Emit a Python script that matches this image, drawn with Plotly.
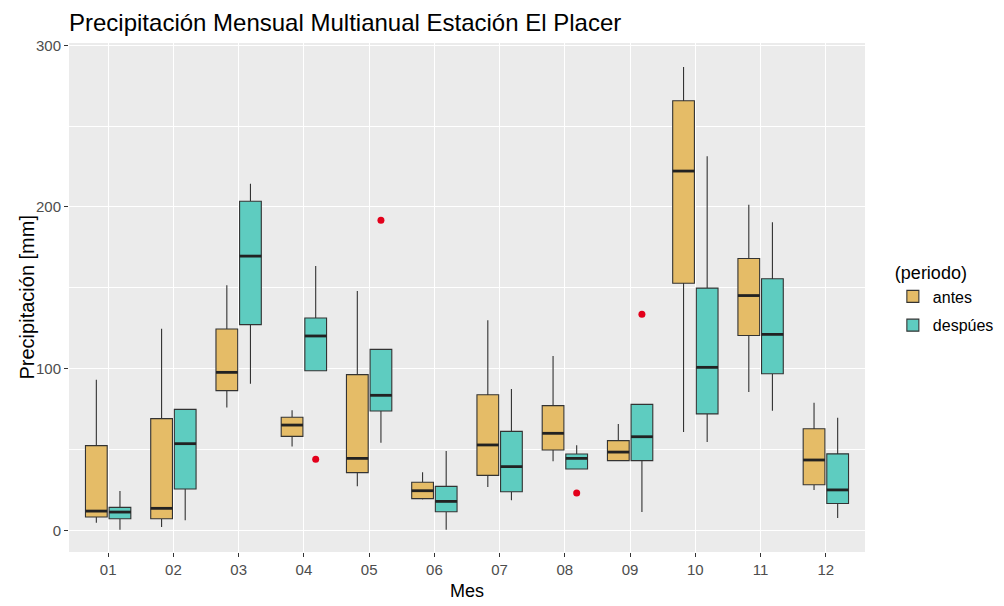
import plotly.graph_objects as go

meses = ["01", "02", "03", "04", "05", "06", "07", "08", "09", "10", "11", "12"]

# antes
antes_low = [4.7, 2.1, 75.9, 51.9, 27.2, 19.0, 26.8, 42.7, 43.1, 60.8, 85.5, 25.0]
antes_q1 = [8.2, 7.2, 86.4, 58.1, 35.7, 19.6, 34.0, 49.7, 43.1, 152.8, 120.5, 28.2]
antes_med = [11.9, 13.6, 97.7, 65.1, 44.5, 24.5, 52.8, 60.0, 48.4, 222.2, 145.2, 43.5]
antes_q3 = [52.4, 69.1, 124.5, 69.9, 96.3, 29.7, 83.9, 77.1, 55.5, 265.7, 168.1, 62.8]
antes_up = [93.2, 124.7, 151.5, 74.2, 148.0, 35.9, 129.9, 107.8, 65.8, 286.5, 201.4, 78.9]

# despues
desp_low = [0.4, 6.2, 90.7, 98.7, 54.2, 0.4, 18.6, 37.9, 11.3, 54.6, 73.9, 7.6]
desp_q1 = [7.2, 25.6, 127.2, 98.7, 73.8, 11.5, 23.9, 37.9, 43.1, 72.0, 96.8, 16.6]
desp_med = [11.3, 53.6, 169.6, 120.2, 83.5, 17.9, 39.4, 44.5, 57.9, 100.8, 121.2, 25.0]
desp_q3 = [14.2, 74.8, 203.5, 131.3, 111.9, 27.2, 61.2, 47.2, 77.9, 149.8, 155.6, 47.3]
desp_up = [24.3, 74.8, 214.4, 163.5, 111.9, 49.1, 87.4, 52.6, 77.9, 231.3, 190.6, 69.6]

# outliers (mes, periodo, valor)
out_mes = ["04", "05", "08", "09"]
out_periodo = ["despúes", "despúes", "despúes", "despúes"]
out_val = [43.9, 191.7, 23.1, 133.6]

periodos = ["antes", "despúes"]
colores = {"antes": "#E5BC67", "despúes": "#5ECCC0"}
offsets = {"antes": -0.181, "despúes": 0.181}
box_w = 0.333
line_col = "#333333"
FONT = "Liberation Sans, Arial, sans-serif"

stats = {
    "antes": (antes_low, antes_q1, antes_med, antes_q3, antes_up),
    "despúes": (desp_low, desp_q1, desp_med, desp_q3, desp_up),
}

fig = go.Figure()
for p in periodos:
    low, q1, med, q3, up = stats[p]
    xs = [i + 1 + offsets[p] for i in range(len(meses))]
    fig.add_trace(go.Box(
        x=xs, q1=q1, median=med, q3=q3, lowerfence=low, upperfence=up,
        name=p, legendgroup=p, fillcolor=colores[p], width=box_w, whiskerwidth=0,
        line=dict(color=line_col, width=1.1), boxpoints=False,
        hoverinfo="skip",
    ))
    # thicker median line (ggplot style)
    mx, my = [], []
    for x, m in zip(xs, med):
        mx += [x - box_w / 2, x + box_w / 2, None]
        my += [m, m, None]
    fig.add_trace(go.Scatter(x=mx, y=my, mode="lines", showlegend=False, legendgroup=p,
                             line=dict(color="#222222", width=2.8), hoverinfo="skip"))

ox = [meses.index(m) + 1 + offsets[p] for m, p in zip(out_mes, out_periodo)]
fig.add_trace(go.Scatter(x=ox, y=out_val, mode="markers", showlegend=False,
                         marker=dict(color="#E3001B", size=7), hoverinfo="skip"))

axis_font = dict(family=FONT, size=15, color="#4D4D4D")

fig.update_layout(
    width=1004, height=606,
    margin=dict(l=69, r=139, t=43, b=54, autoexpand=False),
    paper_bgcolor="white", plot_bgcolor="#EBEBEB",
    boxmode="overlay",
    font=dict(family=FONT, color="#000000"),
    title=dict(text="Precipitación Mensual Multianual Estación El Placer",
               x=0, xref="paper", y=1 - 23 / 606, yref="container", xanchor="left", yanchor="middle",
               font=dict(size=24, color="#000000")),
    xaxis=dict(
        range=[0.4, 12.6], tickmode="array", tickvals=list(range(1, 13)), ticktext=meses,
        showgrid=True, gridcolor="white", gridwidth=1.3, zeroline=False, automargin=False,
        ticks="outside", ticklen=4, tickcolor="#333333", tickwidth=1,
        tickfont=axis_font,
    ),
    yaxis=dict(
        range=[-13.4, 301.4], tickmode="array", tickvals=[0, 100, 200, 300],
        showgrid=True, gridcolor="white", gridwidth=1.3, zeroline=False, automargin=False,
        minor=dict(tickmode="array", tickvals=[50, 150, 250], showgrid=True,
                   gridcolor="white", gridwidth=0.6),
        ticks="outside", ticklen=4, tickcolor="#333333", tickwidth=1,
        tickfont=axis_font,
    ),
    legend=dict(
        title=dict(text="(periodo)", font=dict(size=18, color="#000000")),
        x=1.035, xanchor="left", y=0.497, yanchor="middle",
        font=dict(size=16, color="#000000"), bgcolor="rgba(0,0,0,0)",
        tracegroupgap=5,
    ),
    annotations=[
        dict(text="Mes", xref="paper", yref="paper", x=0.5, y=-39 / 509,
             xanchor="center", yanchor="middle", showarrow=False,
             font=dict(size=18, color="#000000")),
        dict(text="Precipitación [mm]", xref="paper", yref="paper", x=-43 / 796, y=0.5,
             xanchor="center", yanchor="middle", textangle=-90, showarrow=False,
             font=dict(size=20, color="#000000")),
    ],
)

fig.write_html("out.html", config={"displayModeBar": False},
               post_script="document.body.style.margin='0px';document.body.style.overflow='hidden';")
